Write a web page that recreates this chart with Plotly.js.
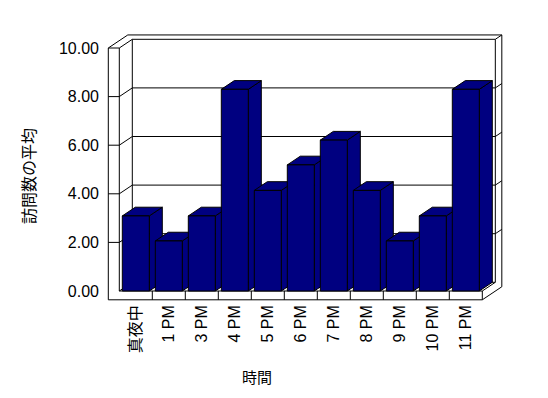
<!DOCTYPE html>
<html>
<head>
<meta charset="utf-8">
<script src="https://cdn.plot.ly/plotly-3.0.1.min.js"></script>
<style>html,body{margin:0;padding:0;background:#fff;}</style>
</head>
<body>
<div id="chart" style="width:548px;height:398px;"></div>
<script>
// ---- data ----
const categories = ['真夜中', '1 PM', '3 PM', '4 PM', '5 PM', '6 PM', '7 PM', '8 PM', '9 PM', '10 PM', '11 PM'];
const visits = [3.09, 2.06, 3.09, 8.3, 4.14, 5.19, 6.21, 4.14, 2.06, 3.09, 8.3];
const yTickValues = [0, 2, 4, 6, 8, 10];
const yTickLabels = ['0.00', '2.00', '4.00', '6.00', '8.00', '10.00'];
const xTitle = '時間';
const yTitle = '訪問数の平均';

// ---- 3D look geometry (axis units) ----
const DX = 0.394, DY = 0.358;   // depth offset
const BW = 0.818;               // bar width
const WL = 0.333;               // left wall thickness
const FT = 0.362;               // floor thickness
const X0 = -0.5, X1 = categories.length - 0.5, YMAX = 10;
const NAVY = '#000080';
const FONT = 'Liberation Sans, Noto Sans CJK JP, sans-serif';

const idx = categories.map((_, i) => i);

// side and top faces
const sideX = [], sideY = [], topX = [], topY = [];
visits.forEach((v, i) => {
  const L = i - BW / 2, R = i + BW / 2;
  sideX.push(R, R, R + DX, R + DX, R, null);
  sideY.push(0, v, v + DY, DY, 0, null);
  topX.push(L, L + DX, R + DX, R, L, null);
  topY.push(v, v + DY, v + DY, v, v, null);
});

// frame lines
const segs = [];
function seg(x0, y0, x1, y1) { segs.push([x0, y0, x1, y1]); }
seg(X0 - WL, -FT, X0 - WL, YMAX);
seg(X0 - WL, YMAX, X0, YMAX);
seg(X0, 0, X0, YMAX);
seg(X0 - WL, -FT, X1, -FT);
seg(X0, 0, X1, 0);
seg(X1, -FT, X1, 0);
seg(X0 - WL, YMAX, X0 - WL + 1.5 * DX, YMAX + 1.5 * DY);
seg(X0, YMAX, X0 + DX, YMAX + DY);
seg(X0 - WL + 1.5 * DX, YMAX + 1.5 * DY, X1 + 1.5 * DX, YMAX + 1.5 * DY);
seg(X0 + DX, YMAX + DY, X1 + DX, YMAX + DY);
seg(X0 + DX, DY, X0 + DX, YMAX + DY);
seg(X1 + DX, DY, X1 + DX, YMAX + DY);
seg(X1 + 1.5 * DX, 1.5 * DY - FT, X1 + 1.5 * DX, YMAX + 1.5 * DY);
seg(X1, -FT, X1 + 1.5 * DX, 1.5 * DY - FT);
seg(X1, 0, X1 + DX, DY);
seg(X0 + DX, DY, X1 + DX, DY);
seg(X0, 0, X0 + DX, DY);
seg(X1 + DX, YMAX + DY, X1 + 1.5 * DX, YMAX + 1.5 * DY);
yTickValues.filter(v => v > 0 && v < YMAX).forEach(v => {
  seg(X0 - WL, v, X0, v);
  seg(X0, v, X0 + DX, v + DY);
  seg(X0 + DX, v + DY, X1 + DX, v + DY);
  seg(X1 + DX, v + DY, X1 + 1.5 * DX, v + 1.5 * DY);
});
for (let i = 1; i < categories.length; i++) seg(X0 + i, -FT, X0 + i, 0);

const shapes = segs.map(s => ({
  type: 'line', xref: 'x', yref: 'y', layer: 'below',
  x0: s[0], y0: s[1], x1: s[2], y1: s[3],
  line: { color: '#000', width: 1 }
}));

// plot area: x 100..520 px, y 28..301 px
const xRange = [-1.0848, 11.642];
const yRange = [-0.4115, 10.823];

const traces = [
  { type: 'scatter', mode: 'lines', x: sideX, y: sideY, fill: 'toself',
    fillcolor: NAVY, line: { color: '#000', width: 1 }, hoverinfo: 'skip', showlegend: false },
  { type: 'scatter', mode: 'lines', x: topX, y: topY, fill: 'toself',
    fillcolor: NAVY, line: { color: '#000', width: 1 }, hoverinfo: 'skip', showlegend: false },
  { type: 'bar', x: idx, y: visits, width: BW, xaxis: 'x2', yaxis: 'y2',
    marker: { color: NAVY, line: { color: '#000', width: 1 } }, showlegend: false }
];

const layout = {
  width: 548, height: 398,
  margin: { l: 100, r: 28, t: 28, b: 97 },
  paper_bgcolor: '#fff', plot_bgcolor: '#fff',
  font: { family: FONT, color: '#000' },
  showlegend: false, hovermode: false,
  xaxis: {
    range: xRange, tickmode: 'array', tickvals: idx, ticktext: categories,
    tickangle: -90, tickfont: { size: 16, family: FONT, color: '#000' },
    showgrid: false, zeroline: false, showline: false, ticks: '',
    automargin: false, fixedrange: true
  },
  yaxis: {
    range: yRange, tickmode: 'array', tickvals: yTickValues, ticktext: yTickLabels,
    tickfont: { size: 16, family: FONT, color: '#000' },
    showgrid: false, zeroline: false, showline: false, ticks: '',
    automargin: false, fixedrange: true
  },
  xaxis2: { range: xRange, overlaying: 'x', visible: false, fixedrange: true },
  yaxis2: { range: yRange, overlaying: 'y', visible: false, fixedrange: true },
  shapes: shapes,
  annotations: [
    { text: xTitle, xref: 'paper', yref: 'paper', x: 0.3738, y: -0.2784,
      xanchor: 'center', yanchor: 'middle', showarrow: false,
      font: { size: 15, family: FONT, color: '#000' } },
    { text: yTitle, xref: 'paper', yref: 'paper', x: -0.1667, y: 0.4579,
      xanchor: 'center', yanchor: 'middle', showarrow: false, textangle: -90,
      font: { size: 16, family: FONT, color: '#000' } }
  ]
};

Plotly.newPlot('chart', traces, layout, { staticPlot: true, displayModeBar: false });
</script>
</body>
</html>
